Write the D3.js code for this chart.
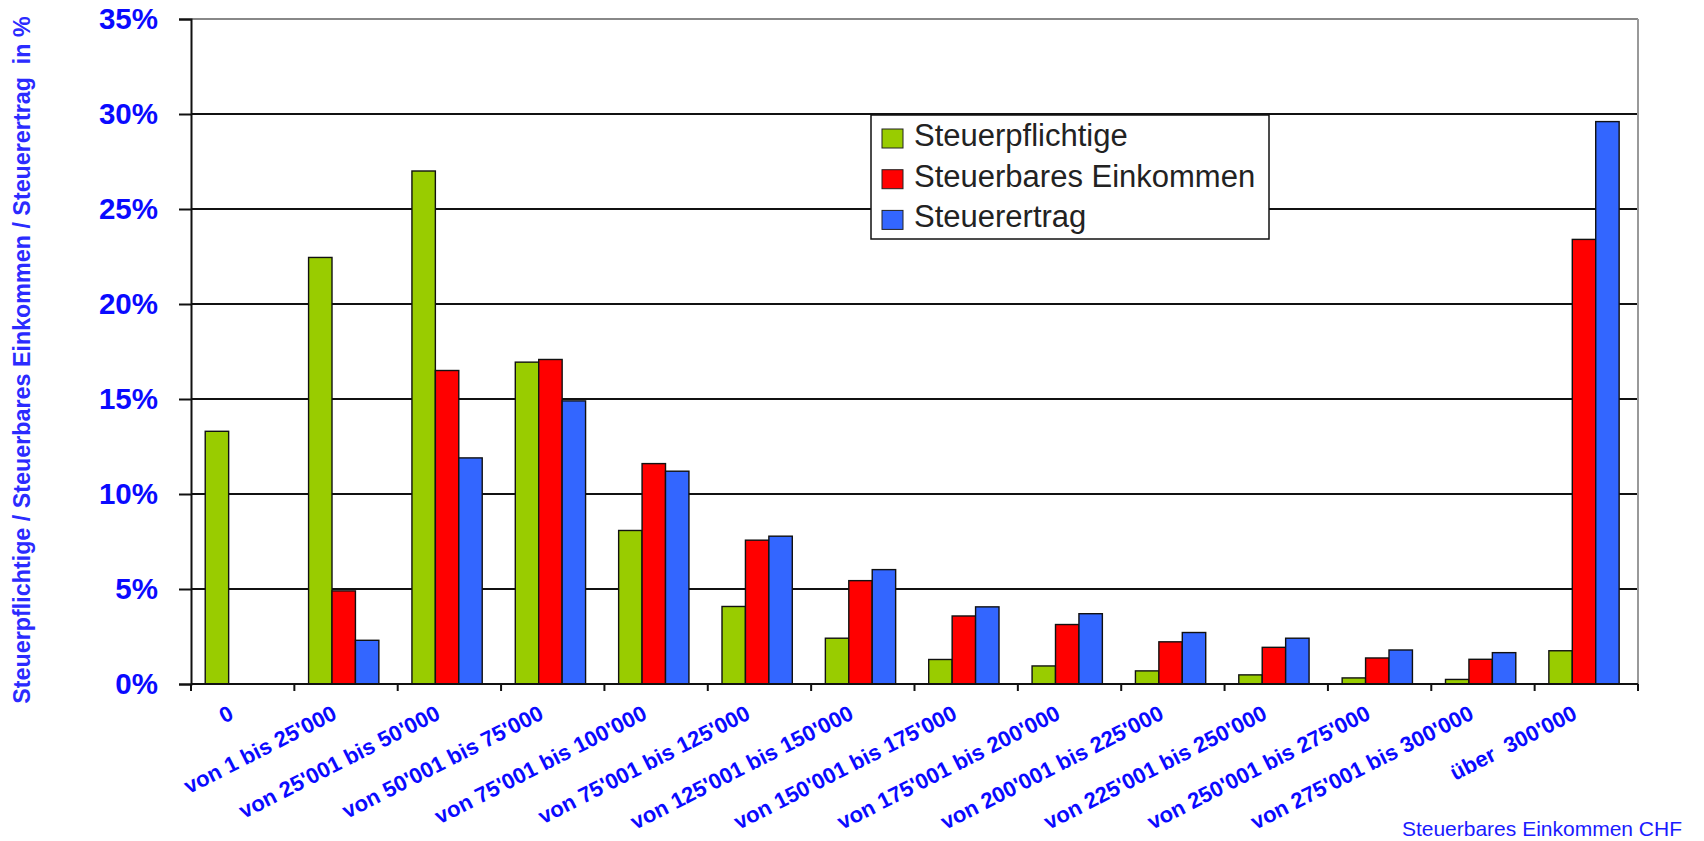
<!DOCTYPE html>
<html>
<head>
<meta charset="utf-8">
<script src="https://cdn.jsdelivr.net/npm/d3@7"></script>
<style>
  html, body { margin: 0; padding: 0; background: #fff; }
  svg { display: block; font-family: "Liberation Sans", Arial, sans-serif; }
</style>
</head>
<body>
<svg id="chart" width="1704" height="841"></svg>
<script>
const categories = [
  "0",
  "von 1 bis 25'000",
  "von 25'001 bis 50'000",
  "von 50'001 bis 75'000",
  "von 75'001 bis 100'000",
  "von 75'001 bis 125'000",
  "von 125'001 bis 150'000",
  "von 150'001 bis 175'000",
  "von 175'001 bis 200'000",
  "von 200'001 bis 225'000",
  "von 225'001 bis 250'000",
  "von 250'001 bis 275'000",
  "von 275'001 bis 300'000",
  "über  300'000"
];
const seriesNames = ["Steuerpflichtige", "Steuerbares Einkommen", "Steuerertrag"];
const steuerpflichtige     = [13.3, 22.45, 27.0, 16.94, 8.08, 4.08, 2.41, 1.29, 0.95, 0.69, 0.48, 0.32, 0.24, 1.75];
const steuerbaresEinkommen = [0, 4.9, 16.5, 17.08, 11.6, 7.57, 5.44, 3.58, 3.13, 2.22, 1.93, 1.37, 1.30, 23.4];
const steuerertrag         = [0, 2.3, 11.9, 14.9, 11.2, 7.78, 6.02, 4.06, 3.70, 2.71, 2.41, 1.79, 1.65, 29.6];
const yTicks = [0, 5, 10, 15, 20, 25, 30, 35];
const colors = ["#99cc00", "#ff0000", "#3366ff"];

const seriesValues = [steuerpflichtige, steuerbaresEinkommen, steuerertrag];

const svg = d3.select("#chart");
const pLeft = 191, pRight = 1638, pTop = 19, pBottom = 684;

const y = d3.scaleLinear().domain([0, 35]).range([pBottom, pTop]);
const xCat = d3.scaleBand().domain(categories).range([pLeft, pRight]).padding(0);
const x0 = d3.scaleBand().domain(categories).range([pLeft, pRight])
  .paddingInner(0.32).paddingOuter(0.16).align(0.43);
const x1 = d3.scaleBand().domain(seriesNames).range([0, x0.bandwidth()]).padding(0);

// plot background
svg.append("rect").attr("x", pLeft).attr("y", pTop).attr("width", pRight - pLeft).attr("height", pBottom - pTop)
  .attr("fill", "#fff");

// gridlines
svg.append("g").selectAll("line").data(yTicks.filter(d => d > 0)).join("line")
  .attr("x1", pLeft).attr("x2", pRight)
  .attr("y1", d => y(d)).attr("y2", d => y(d))
  .attr("stroke", d => d === 35 ? "#888" : "#111")
  .attr("stroke-width", 2);

// right border
svg.append("line").attr("x1", pRight).attr("x2", pRight).attr("y1", pTop).attr("y2", pBottom)
  .attr("stroke", "#999").attr("stroke-width", 2);

// bars
const groups = svg.append("g").selectAll("g").data(categories).join("g")
  .attr("transform", d => `translate(${x0(d)},0)`);
groups.selectAll("rect")
  .data((c, i) => seriesNames.map((s, j) => ({ s, j, v: seriesValues[j][i] })).filter(d => d.v > 0))
  .join("rect")
  .attr("x", d => x1(d.s))
  .attr("width", x1.bandwidth())
  .attr("y", d => y(d.v))
  .attr("height", d => y(0) - y(d.v))
  .attr("fill", d => colors[d.j])
  .attr("stroke", "#111")
  .attr("stroke-width", 1.4);

// y axis
const yAxis = svg.append("g").attr("transform", `translate(${pLeft},0)`)
  .call(d3.axisLeft(y).tickValues(yTicks).tickSize(12).tickPadding(21).tickFormat(d => d + "%"));
yAxis.select(".domain").attr("stroke", "#111").attr("stroke-width", 2);
yAxis.selectAll(".tick line").attr("stroke", "#111").attr("stroke-width", 2);
yAxis.selectAll(".tick text")
  .attr("fill", "#0a0aff").attr("font-size", 29.5).attr("font-weight", "bold")
  .attr("font-family", "Liberation Sans, Arial, sans-serif");

// x axis line and ticks at category boundaries
const boundaries = categories.map(c => xCat(c)).concat([pRight]);
svg.append("line").attr("x1", pLeft).attr("x2", pRight).attr("y1", pBottom).attr("y2", pBottom)
  .attr("stroke", "#111").attr("stroke-width", 2);
svg.append("g").selectAll("line").data(boundaries).join("line")
  .attr("x1", d => d).attr("x2", d => d).attr("y1", pBottom).attr("y2", pBottom + 7)
  .attr("stroke", "#111").attr("stroke-width", 2);

// x labels
svg.append("g").selectAll("text").data(categories).join("text")
  .attr("transform", d => `translate(${xCat(d) + xCat.bandwidth() / 2 - 15},704) rotate(-27)`)
  .attr("text-anchor", "end")
  .attr("dy", "0.72em")
  .attr("fill", "#0a0aff")
  .attr("font-size", 22)
  .attr("font-weight", "bold")
  .style("white-space", "pre")
  .text(d => d);

// y axis title
svg.append("text")
  .attr("transform", "translate(22,360) rotate(-90)")
  .attr("text-anchor", "middle")
  .attr("dominant-baseline", "central")
  .attr("fill", "#2b2bff")
  .attr("font-size", 23.3)
  .attr("font-weight", "bold")
  .style("white-space", "pre")
  .text("Steuerpflichtige / Steuerbares Einkommen / Steuerertrag  in %");

// x axis title
svg.append("text")
  .attr("x", 1682).attr("y", 836)
  .attr("text-anchor", "end")
  .attr("fill", "#1a1aff")
  .attr("font-size", 21)
  .text("Steuerbares Einkommen CHF");

// legend
const legend = svg.append("g");
legend.append("rect").attr("x", 871).attr("y", 115).attr("width", 398).attr("height", 124)
  .attr("fill", "#fff").attr("stroke", "#111").attr("stroke-width", 1.5);
const rows = legend.selectAll("g.row").data(seriesNames).join("g").attr("class", "row")
  .attr("transform", (d, i) => `translate(882,${129 + i * 40.7})`);
rows.append("rect").attr("width", 21).attr("height", 19)
  .attr("fill", (d, i) => colors[i]).attr("stroke", "#222").attr("stroke-width", 1);
rows.append("text").attr("x", 32).attr("y", 17)
  .attr("fill", "#222").attr("font-size", 31)
  .text(d => d);
</script>
</body>
</html>
